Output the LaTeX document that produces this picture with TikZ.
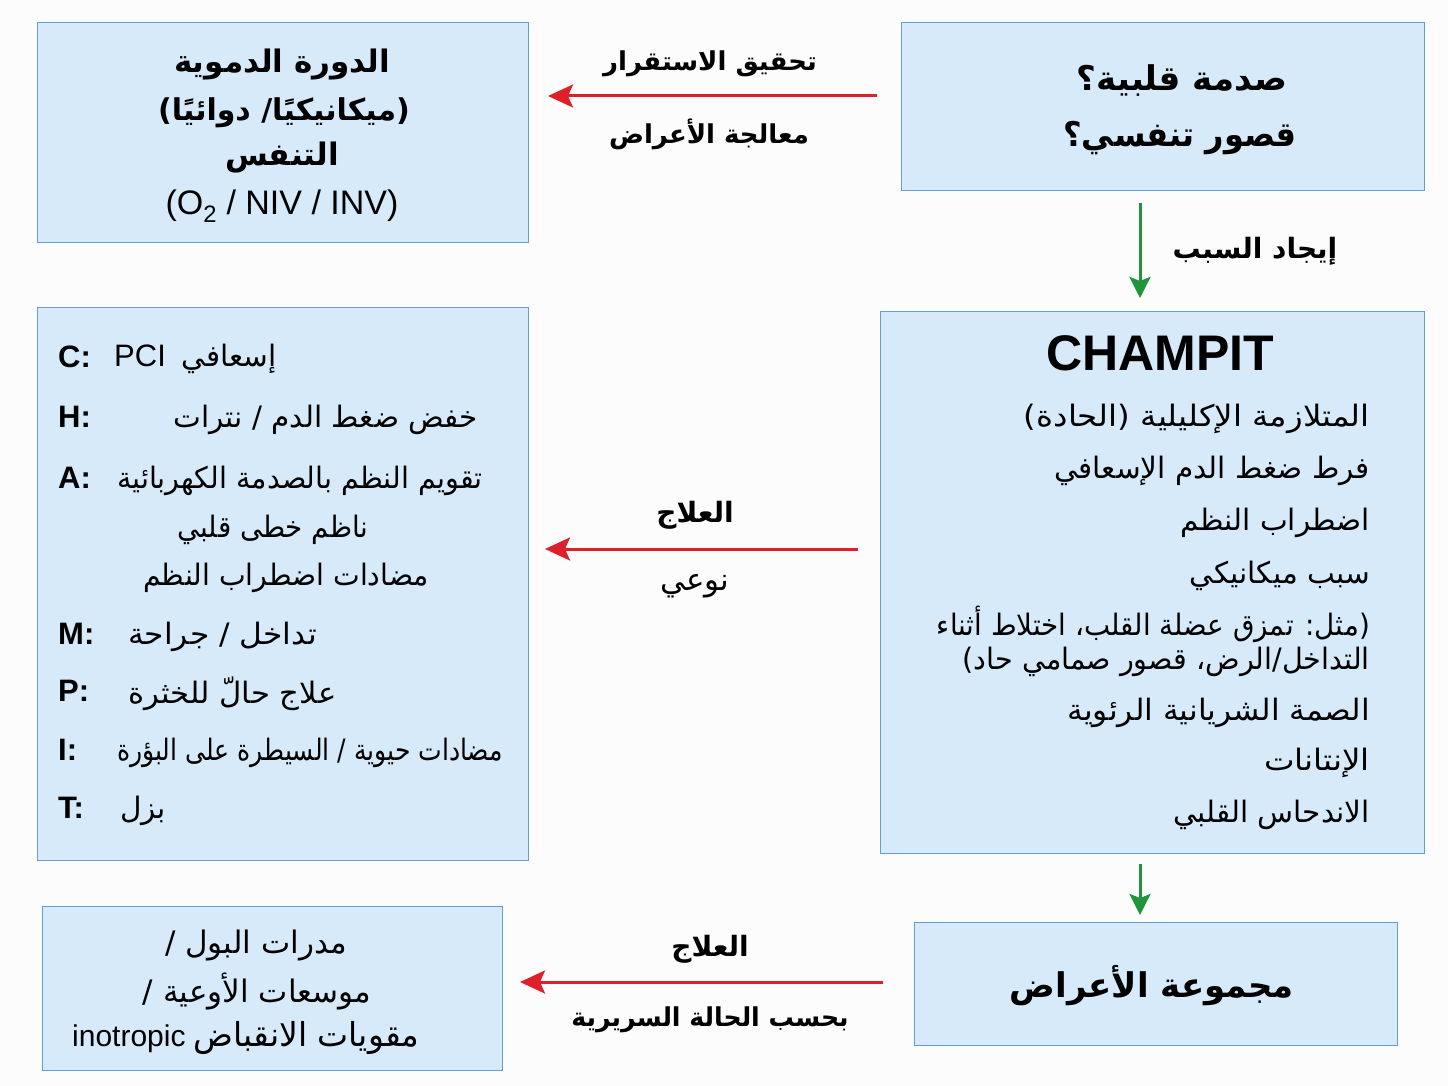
\documentclass[tikz,border=0pt]{standalone}
\usepackage{fontspec}
\setmainfont{Liberation Sans}
\newfontfamily\arfont[Script=Arabic]{DejaVu Sans}
\TeXXeTstate=1
\usetikzlibrary{arrows.meta}
\definecolor{boxfill}{RGB}{214,234,249}
\definecolor{boxline}{RGB}{98,158,222}
\definecolor{redarr}{RGB}{222,32,42}
\definecolor{greenarr}{RGB}{32,150,58}
\definecolor{bgcol}{RGB}{252,252,252}
\newcommand\AR[1]{\beginR #1\endR}
\newcommand\LT[1]{{\rmfamily #1}}
\newcommand\SX[2]{\scalebox{#1}[1]{#2}}
\begin{document}
\begin{tikzpicture}[x=1pt,y=-1pt,
  box/.style={draw=boxline, fill=boxfill, line width=1.3pt, inner sep=0pt, anchor=north west},
  txt/.style={inner sep=0pt, text=black},
  artext/.style={txt, font=\arfont\fontsize{29.5}{34}\selectfont},
  arbig1/.style={txt, font=\arfont\fontsize{31}{36}\selectfont},
  arbold/.style={txt, font=\arfont\bfseries\fontsize{28}{34}\selectfont},
  arlab/.style={txt, font=\arfont\bfseries\fontsize{26}{32}\selectfont},
  arhead/.style={txt, font=\arfont\bfseries\fontsize{31}{38}\selectfont},
  arbig/.style={txt, font=\arfont\bfseries\fontsize{34}{40}\selectfont},
  latb/.style={txt, font=\bfseries\fontsize{31}{36}\selectfont, anchor=west},
  redarrow/.style={draw=redarr, line width=3pt, -{Stealth[length=25pt,width=23pt,inset=5pt]}},
  greenarrow/.style={draw=greenarr, line width=3pt, -{Stealth[length=21pt,width=21pt,inset=4pt]}},
]
\fill[bgcol] (0,0) rectangle (1448,1086);
\useasboundingbox (0,0) rectangle (1448,1086);

% boxes
\node[box, minimum width=491pt, minimum height=220pt] (tl) at (37,22) {};
\node[box, minimum width=523pt, minimum height=168pt] (tr) at (901,22) {};
\node[box, minimum width=491pt, minimum height=553pt] (ml) at (37,307) {};
\node[box, minimum width=544pt, minimum height=542pt] (mr) at (880,311) {};
\node[box, minimum width=460pt, minimum height=164pt] (bl) at (42,906) {};
\node[box, minimum width=483pt, minimum height=123pt] (br) at (914,922) {};

% top-left box
\node[arhead] (tl1) at (282,65) {\AR{الدورة الدموية}};
\node[txt, font=\arfont\bfseries\fontsize{30}{36}\selectfont] (tl2) at (284,113) {\AR{(ميكانيكيًا/ دوائيًا)}};
\node[arhead] (tl3) at (282,158) {\AR{التنفس}};
\node[txt, font=\fontsize{34}{40}\selectfont] (tl4) at (282,206) {(O\textsubscript{2} / NIV / INV)};

% top-right box
\node[arbig] (tr1) at (1182,81) {\AR{صدمة قلبية؟}};
\node[arbig] (tr2) at (1180,138) {\SX{0.94}{\AR{قصور تنفسي؟}}};

% arrow labels
\node[arlab] (l1) at (710,64) {\AR{تحقيق الاستقرار}};
\node[arlab] (l2) at (709,134) {\AR{معالجة الأعراض}};
\node[arbold] (l3) at (1255,251) {\AR{إيجاد السبب}};
\node[arbold] (l4) at (695,515) {\AR{العلاج}};
\node[arbig1] (l5) at (695,586) {\AR{نوعي}};
\node[arbold] (l6) at (710,949) {\AR{العلاج}};
\node[arlab] (l7) at (710,1020) {\SX{0.97}{\AR{بحسب الحالة السريرية}}};

% CHAMPIT box
\node[txt, font=\bfseries\fontsize{50}{56}\selectfont] (champ) at (1160,353) {CHAMPIT};
\node[artext, anchor=east] (m1) at (1370,419) {\SX{1.1}{\AR{المتلازمة الإكليلية (الحادة)}}};
\node[artext, anchor=east] (m2) at (1370,471) {\AR{فرط ضغط الدم الإسعافي}};
\node[artext, anchor=east] (m3) at (1370,523) {\AR{اضطراب النظم}};
\node[artext, anchor=east] (m4) at (1370,576) {\AR{سبب ميكانيكي}};
\node[artext, anchor=east] (m5) at (1370,624) {\SX{0.94}{\AR{(مثل: تمزق عضلة القلب، اختلاط أثناء}}};
\node[artext, anchor=east] (m6) at (1370,662) {\SX{0.97}{\AR{التداخل/الرض، قصور صمامي حاد)}}};
\node[artext, anchor=east] (m7) at (1370,713) {\SX{1.06}{\AR{الصمة الشريانية الرئوية}}};
\node[artext, anchor=east] (m8) at (1370,763) {\SX{1.1}{\AR{الإنتانات}}};
\node[artext, anchor=east] (m9) at (1370,815) {\AR{الاندحاس القلبي}};

% treatment box
\node[latb] (kc) at (58,357) {C:};
\node[latb] (kh) at (58,417) {H:};
\node[latb] (ka) at (58,478) {A:};
\node[latb] (km) at (58,634) {M:};
\node[latb] (kp) at (58,691) {P:};
\node[latb] (ki) at (58,750) {I:};
\node[latb] (kt) at (58,808) {T:};
\node[artext, anchor=west] (c1) at (114,359) {\LT{\fontsize{31}{36}\selectfont PCI}\hspace{16pt}\AR{إسعافي}};
\node[artext, anchor=east] (h1) at (478,420) {\AR{خفض ضغط الدم / نترات}};
\node[artext, anchor=west] (a1) at (117,481) {\SX{0.97}{\AR{تقويم النظم بالصدمة الكهربائية}}};
\node[artext] (a2) at (273,530) {\SX{0.94}{\AR{ناظم خطى قلبي}}};
\node[artext] (a3) at (286,578) {\SX{0.96}{\AR{مضادات اضطراب النظم}}};
\node[artext, anchor=west] (mm1) at (128,637) {\SX{1.06}{\AR{تداخل / جراحة}}};
\node[artext, anchor=west] (p1) at (128,694) {\SX{1.04}{\AR{علاج حالّ للخثرة}}};
\node[artext, anchor=west] (i1) at (117,753) {\SX{0.85}{\AR{مضادات حيوية / السيطرة على البؤرة}}};
\node[artext, anchor=west] (t1) at (120,811) {\AR{بزل}};

% bottom-left box
\node[arbig1] (b1) at (256,945) {\AR{مدرات البول /}};
\node[arbig1] (b2) at (257,991) {\AR{موسعات الأوعية /}};
\node[arbig1, anchor=west] (b3) at (72,1038) {\LT{\fontsize{30}{36}\selectfont inotropic}\hspace{8pt}{\fontsize{33}{38}\selectfont\AR{مقويات الانقباض}}};

% bottom-right box
\node[arbig] (sym) at (1152,986) {\AR{مجموعة الأعراض}};

% arrows
\coordinate (a1s) at (877,96);
\coordinate (a1e) at (548,96);
\coordinate (g1s) at (1140,203);
\coordinate (g1e) at (1140,298);
\coordinate (a3s) at (858,549);
\coordinate (a3e) at (545,549);
\coordinate (g2s) at (1140,864);
\coordinate (g2e) at (1140,915);
\coordinate (a5s) at (883,982);
\coordinate (a5e) at (520,982);
\draw[redarrow] (a1s) -- (a1e);
\draw[greenarrow] (g1s) -- (g1e);
\draw[redarrow] (a3s) -- (a3e);
\draw[greenarrow] (g2s) -- (g2e);
\draw[redarrow] (a5s) -- (a5e);
\end{tikzpicture}
\end{document}
